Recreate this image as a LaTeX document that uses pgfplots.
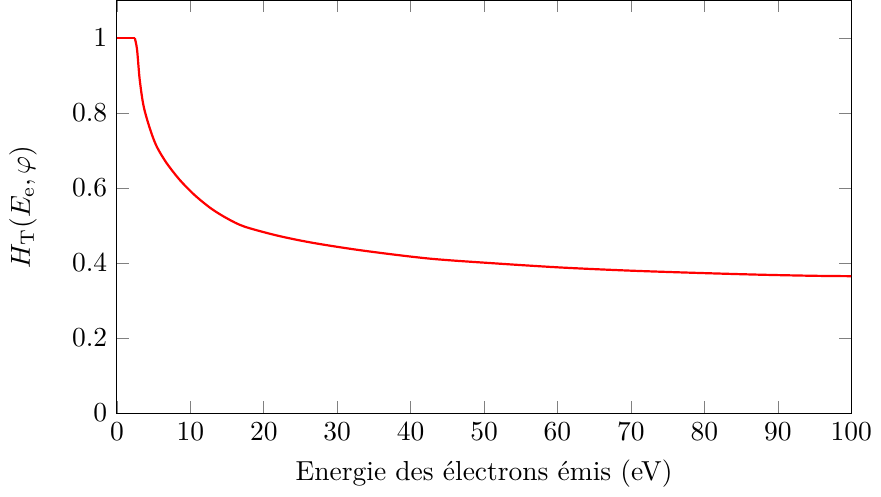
\documentclass[border=0pt]{standalone}
\usepackage{pgfplots}
\pgfplotsset{compat=1.18}
\begin{document}
\begin{tikzpicture}
\begin{axis}[
  scale only axis,
  width=267pt, height=150pt,
  xmin=0, xmax=100, ymin=0, ymax=1.1,
  xtick={0,10,...,100},
  ytick={0,0.2,0.4,0.6,0.8,1},
  xlabel={Energie des électrons émis (eV)},
  ylabel={$H_{\mathrm{T}}(E_{\mathrm{e}},\varphi)$},
  ylabel shift=6pt,
]
\addplot[red, thick] coordinates {
(0,1) (2.43,1)
};
\addplot[red, thick, smooth] coordinates {
(2.43,1) (2.74,0.970) (3.10,0.890) (3.64,0.818) (4.55,0.755) (5.44,0.710) (6.79,0.666) (8.59,0.621) (10.6,0.581) (12.86,0.545) (15.1,0.518) (17.4,0.497) (21.9,0.473) (26.8,0.4535) (33.6,0.433) (42.5,0.412) (51.6,0.399) (60.6,0.388) (69.6,0.380) (78.6,0.374) (87.5,0.369) (95,0.366) (100,0.365)
};
\end{axis}
\end{tikzpicture}
\end{document}
